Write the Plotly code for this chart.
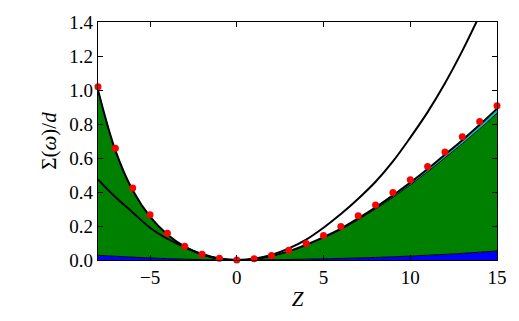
import plotly.graph_objects as go

z = list(range(-8, 16))

# stacked layers (blue bottom, green middle, cyan top)
blue = [0.028, 0.022, 0.017, 0.012, 0.008, 0.005, 0.002, 0.0005, 0.0,
        0.0005, 0.002, 0.003, 0.005, 0.007, 0.009, 0.012, 0.015, 0.019,
        0.023, 0.028, 0.033, 0.039, 0.046, 0.053]
green = [0.972, 0.623, 0.393, 0.243, 0.142, 0.073, 0.030, 0.0075, 0.0,
         0.0055, 0.022, 0.047, 0.082, 0.123, 0.170, 0.225, 0.285, 0.349,
         0.418, 0.491, 0.568, 0.645, 0.725, 0.810]
cyan = [0, 0, 0, 0, 0, 0, 0, 0, 0,
        0, 0, 0.002, 0.003, 0.005, 0.006, 0.008, 0.010, 0.012,
        0.014, 0.016, 0.019, 0.021, 0.024, 0.027]

# red dots
dots = [1.019, 0.658, 0.423, 0.266, 0.158, 0.081, 0.034, 0.011, 0.0,
        0.008, 0.027, 0.057, 0.097, 0.144, 0.197, 0.260, 0.324, 0.397,
        0.472, 0.550, 0.636, 0.725, 0.814, 0.907]

# second black curve
z2 = list(range(-8, 15))
curve2 = [0.474, 0.37, 0.28, 0.19, 0.125, 0.075, 0.035, 0.009, 0.0,
          0.008, 0.03, 0.068, 0.12, 0.19, 0.27, 0.36, 0.46, 0.58,
          0.72, 0.87, 1.04, 1.23, 1.44]

fig = go.Figure()
fig.add_trace(go.Scatter(x=z, y=blue, stackgroup="s", mode="lines",
                         line=dict(color="black", width=1, shape="spline"),
                         fillcolor="#0000ff"))
fig.add_trace(go.Scatter(x=z, y=green, stackgroup="s", mode="lines",
                         line=dict(color="black", width=1, shape="spline"),
                         fillcolor="#008000"))
fig.add_trace(go.Scatter(x=z, y=cyan, stackgroup="s", mode="lines",
                         line=dict(color="black", width=2, shape="spline"),
                         fillcolor="#00bfbf"))
fig.add_trace(go.Scatter(x=z2, y=curve2, mode="lines",
                         line=dict(color="black", width=2, shape="spline")))
fig.add_trace(go.Scatter(x=z, y=dots, mode="markers",
                         marker=dict(color="#ff0000", size=7, line=dict(width=0)),
                         cliponaxis=False))

font = dict(family="Liberation Serif", size=19, color="black")
tfont = dict(family="Liberation Serif", size=21, color="black")
fig.update_layout(
    width=519, height=321,
    margin=dict(l=98, r=21, t=14, b=61),
    plot_bgcolor="white", paper_bgcolor="white",
    showlegend=False, font=font,
    xaxis=dict(range=[-8, 15], tickvals=[-5, 0, 5, 10, 15],
               ticks="inside", ticklen=5, tickcolor="black", mirror="allticks",
               showline=True, linecolor="black", linewidth=1.2,
               showgrid=False, zeroline=False, tickfont=font,
               title=dict(text="<i>Z</i>", standoff=4, font=tfont)),
    yaxis=dict(range=[0, 1.4], tickvals=[0, 0.2, 0.4, 0.6, 0.8, 1.0, 1.2, 1.4],
               tickformat=".1f",
               ticks="inside", ticklen=5, tickcolor="black", mirror="allticks",
               showline=True, linecolor="black", linewidth=1.2,
               showgrid=False, zeroline=False, tickfont=font,
               title=dict(text="Σ(<i>ω</i>)/<i>d</i>", standoff=6, font=tfont)),
)
fig.write_html("out.html")
